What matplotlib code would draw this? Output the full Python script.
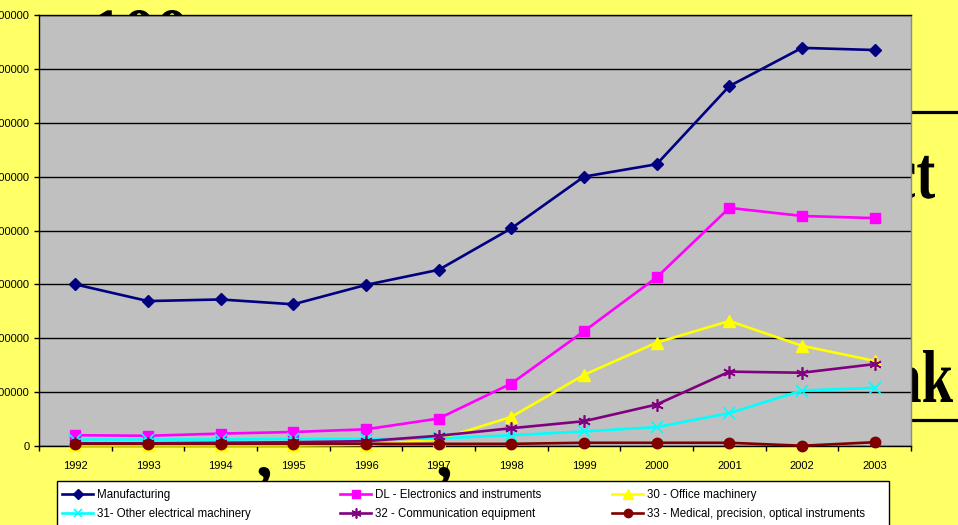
import matplotlib
matplotlib.use("Agg")
import matplotlib.pyplot as plt
from matplotlib.lines import Line2D
from matplotlib.patches import Rectangle, PathPatch
from matplotlib.textpath import TextPath
from matplotlib.font_manager import FontProperties
from matplotlib.transforms import Affine2D

# ---- data -------------------------------------------------------------
years = ["1992", "1993", "1994", "1995", "1996", "1997",
         "1998", "1999", "2000", "2001", "2002", "2003"]

manufacturing = [1500000, 1345000, 1360000, 1315000, 1495000, 1635000,
                 2020000, 2500000, 2615000, 3340000, 3695000, 3675000]
dl_electronics = [100000, 95000, 115000, 130000, 155000, 255000,
                  580000, 1065000, 1565000, 2210000, 2135000, 2115000]
office_machinery = [5000, 5000, 5000, 5000, 10000, 60000,
                    270000, 660000, 960000, 1160000, 930000, 790000]
other_electrical = [60000, 60000, 60000, 65000, 65000, 70000,
                    100000, 135000, 175000, 305000, 515000, 540000]
communication = [25000, 25000, 30000, 35000, 45000, 95000,
                 165000, 230000, 385000, 690000, 680000, 760000]
medical = [20000, 20000, 20000, 20000, 20000, 20000,
           20000, 30000, 30000, 30000, 2500, 35000]

series_labels = ["Manufacturing",
                 "DL - Electronics and instruments",
                 "30 - Office machinery",
                 "31- Other electrical machinery",
                 "32 - Communication equipment",
                 "33 - Medical, precision, optical instruments"]

y_ticks = [0, 500000, 1000000, 1500000, 2000000,
           2500000, 3000000, 3500000, 4000000]

# ---- figure -------------------------------------------------------------
W, H = 958, 525
fig = plt.figure(figsize=(W / 100, H / 100), dpi=100, facecolor="#FFFF66")


def fx(x):
    return x / W


def fy(y):
    return 1 - y / H


serif_bold = FontProperties(family=["Liberation Serif", "DejaVu Serif"], weight="bold")


def slide_text(s, em, baseline=None, top=None, left=None, right=None, sx=1.0):
    """Draw large slide lettering (pixel placement, ink-aligned) behind the chart."""
    tp = TextPath((0, 0), s, size=1, prop=serif_bold)
    e = tp.get_extents()
    kx, ky = em * sx, em
    if right is not None:
        offx = right - e.x1 * kx
    else:
        offx = left - e.x0 * kx
    if baseline is None:
        baseline = top + e.y1 * ky
    tr = (Affine2D().scale(kx, ky).translate(offx, H - baseline)
          .scale(1 / W, 1 / H) + fig.transFigure)
    fig.add_artist(PathPatch(tp, transform=tr, facecolor="black",
                             edgecolor="none", zorder=-2))


# reference size of the slide lettering, taken from the letter "k"
_k = TextPath((0, 0), "k", size=1, prop=serif_bold).get_extents()
em_big = 52 / _k.height
squeeze = 30 / (_k.width * em_big)

slide_text("100", 66, top=10, left=95)
slide_text("ct", em_big, baseline=198, right=935, sx=squeeze)
slide_text("ak", em_big, baseline=402, right=953, sx=squeeze)
for cx in (257, 437):
    slide_text(",", 66, top=467, left=cx)
for ly in (111.7, 420):
    fig.add_artist(Line2D([fx(905), fx(958)], [fy(ly), fy(ly)], color="black",
                          lw=2.3, zorder=-2))

# ---- plot area ------------------------------------------------------------
ax = fig.add_axes([fx(39), fy(446), fx(911) - fx(39), fy(15) - fy(446)])
ax.set_facecolor("#C0C0C0")

x = list(range(len(years)))
lw = 1.9
styles = [
    (manufacturing, dict(color="#000080", marker="D", ms=6.0)),
    (dl_electronics, dict(color="#FF00FF", marker="s", ms=7.5)),
    (office_machinery, dict(color="#FFFF00", marker="^", ms=8.5)),
    (other_electrical, dict(color="#00FFFF", marker="x", ms=8, mew=1.2)),
    (communication, dict(color="#800080", marker=(6, 2, 0), ms=9, mew=1.2)),
    (medical, dict(color="#800000", marker="o", ms=7.5)),
]
handles = []
for (vals, st), lab in zip(styles, series_labels):
    h, = ax.plot(x, vals, lw=lw, label=lab, clip_on=False, zorder=3, **st)
    handles.append(h)

ax.set_xlim(-0.5, len(years) - 0.5)
ax.set_ylim(0, 4000000)

ax.set_xticks(x)
ax.set_xticklabels(years)
ax.set_xticks([i - 0.5 for i in range(len(years) + 1)], minor=True)
ax.tick_params(axis="x", which="major", length=0, pad=10.5)
ax.tick_params(axis="x", which="minor", length=3.6, width=1, color="black",
               direction="out")
ax.set_yticks(y_ticks)
ax.set_yticklabels([str(v) for v in y_ticks])
ax.tick_params(axis="y", length=3.6, width=1, color="black", direction="out", pad=3.2)
for lab in ax.get_xticklabels() + ax.get_yticklabels():
    lab.set_fontfamily("Liberation Sans")
    lab.set_fontsize(8)

ax.yaxis.grid(True, color="black", lw=1.0)
ax.set_axisbelow(True)
for side in ("left", "bottom", "top"):
    ax.spines[side].set_color("black")
    ax.spines[side].set_linewidth(1.0)
ax.spines["right"].set_color("#8C8C8C")
ax.spines["right"].set_linewidth(1.0)

# ---- legend ---------------------------------------------------------------
fig.add_artist(Rectangle((fx(57), fy(540)), fx(889) - fx(57), fy(481) - fy(540),
                         facecolor="white", edgecolor="black", lw=1.0, zorder=4))
legend_font = dict(family=["Liberation Sans Narrow", "Liberation Sans"], size=8.3)
col_x = [62, 340, 612]
for c, cx in enumerate(col_x):
    hs = [handles[c], handles[c + 3]]
    leg = fig.legend(hs, [h.get_label() for h in hs], loc="upper left",
                     bbox_to_anchor=(fx(cx), fy(489)), frameon=False,
                     borderpad=0, borderaxespad=0, handlelength=2.7,
                     handletextpad=0.3, labelspacing=0.62, prop=legend_font,
                     markerscale=0.8)
    leg.set_zorder(5)

fig.savefig("out.png", dpi=100, facecolor=fig.get_facecolor())
